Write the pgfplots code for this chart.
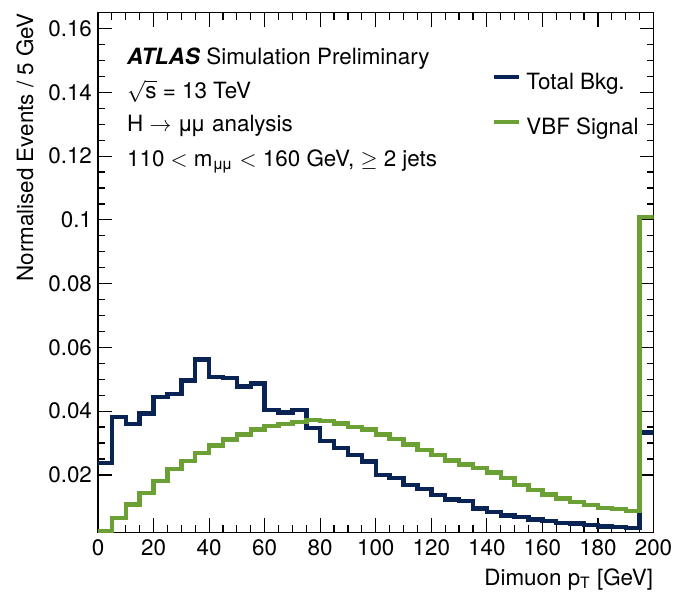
\documentclass[border=0pt]{standalone}
\usepackage{pgfplots}
\pgfplotsset{compat=1.18}
\usepackage{fontspec}
\setmainfont{TeX Gyre Heros}
\usetikzlibrary{calc}
\definecolor{bkg}{RGB}{10,35,85}
\definecolor{sig}{RGB}{107,160,52}
\newcommand\fs{\fontsize{11.2pt}{13.4pt}\selectfont}
\newcommand\mumu{μ\kern-0.12emμ}
\begin{document}
\begin{tikzpicture}[font=\fs]
\begin{axis}[name=ax, scale only axis, width=277.75pt, height=259.8pt,
  xmin=0, xmax=200, ymin=0.002, ymax=0.165,
  xtick={0,20,...,200}, ytick={0.02,0.04,0.06,0.08,0.1,0.12,0.14,0.16},
  minor x tick num=3, minor y tick num=3,
  tick pos=both, tick align=inside,
  major tick length=7pt, minor tick length=3.5pt,
  every tick/.style={black, line width=0.6pt},
  axis line style={line width=0.7pt},
  scaled y ticks=false,
  yticklabel style={/pgf/number format/fixed, /pgf/number format/precision=2, xshift=0.5pt},
  /pgf/number format/assume math mode=true,
  tick label style={font=\fs},
  label style={font=\fs},
  xlabel={Dimuon p\textsubscript{T} [GeV]},
  ylabel={Normalised Events / 5 GeV},
  xlabel style={at={(axis description cs:1,0)}, anchor=base east, yshift=-26.4pt, inner sep=0pt},
  ylabel style={at={(axis description cs:-0.117,1)}, anchor=base east, inner sep=0pt},
  legend style={at={(rel axis cs:0.7086,0.8845)}, anchor=north west, draw=none, fill=none,
    inner sep=0pt, row sep=12.5pt, column sep=0pt, font=\fs,
    nodes={inner sep=0pt, text height=8pt, text depth=2pt}},
  legend image code/.code={\draw[#1, line width=2.2pt] (0pt,3pt) -- (12.5pt,3pt);},
  legend cell align=left,
]
\addplot[const plot, color=bkg, line width=2.2pt] coordinates {
(0,0.0238) (5,0.0381) (10,0.0360) (15,0.0393) (20,0.0444) (25,0.0454) (30,0.0496) (35,0.0562)
(40,0.0507) (45,0.0504) (50,0.0477) (55,0.0487) (60,0.0404) (65,0.0396) (70,0.0404) (75,0.0348)
(80,0.0306) (85,0.0285) (90,0.0263) (95,0.0242) (100,0.0200) (105,0.0190) (110,0.0168) (115,0.0155)
(120,0.0137) (125,0.0123) (130,0.0118) (135,0.0095) (140,0.0084) (145,0.0073) (150,0.0068) (155,0.0060)
(160,0.0055) (165,0.0049) (170,0.0047) (175,0.0042) (180,0.0038) (185,0.0036) (190,0.0033) (195,0.0333)
(200,0.0333)};
\addlegendentry{\hspace{2.5pt}Total Bkg.}
\addplot[const plot, color=sig, line width=2.2pt] coordinates {
(0,0.0022) (5,0.0065) (10,0.0107) (15,0.0144) (20,0.0181) (25,0.0218) (30,0.0244) (35,0.0269)
(40,0.0292) (45,0.0311) (50,0.0327) (55,0.0343) (60,0.0353) (65,0.0359) (70,0.0366) (75,0.0372)
(80,0.0369) (85,0.0361) (90,0.0350) (95,0.0343) (100,0.0327) (105,0.0313) (110,0.0295) (115,0.0279)
(120,0.0263) (125,0.0245) (130,0.0233) (135,0.0221) (140,0.0207) (145,0.0190) (150,0.0168) (155,0.0152)
(160,0.0139) (165,0.0126) (170,0.0115) (175,0.0105) (180,0.0097) (185,0.0094) (190,0.0086) (195,0.1010)
(200,0.1010)};
\addlegendentry{\hspace{2.5pt}VBF Signal}
\node[anchor=base west, font=\fs, inner sep=0pt] at (rel axis cs:0.0517,0.8994) {\textbf{\textit{ATLAS}} Simulation Preliminary};
\node[anchor=base west, font=\fs, inner sep=0pt] at (rel axis cs:0.0517,0.8353) {$\sqrt{\mbox{s}}$ = 13 TeV};
\node[anchor=base west, font=\fs, inner sep=0pt] at (rel axis cs:0.0517,0.7710) {H $\rightarrow$ \mumu{} analysis};
\node[anchor=base west, font=\fs, inner sep=0pt] at (rel axis cs:0.0517,0.7036) {110 $<$ m\textsubscript{\mumu} $<$ 160 GeV, $\geq$ 2 jets};
\end{axis}
\pgfresetboundingbox
\useasboundingbox ($(ax.south west)+(-49pt,-29.85pt)$) rectangle ($(ax.north east)+(10.75pt,6.35pt)$);
\end{tikzpicture}
\end{document}
